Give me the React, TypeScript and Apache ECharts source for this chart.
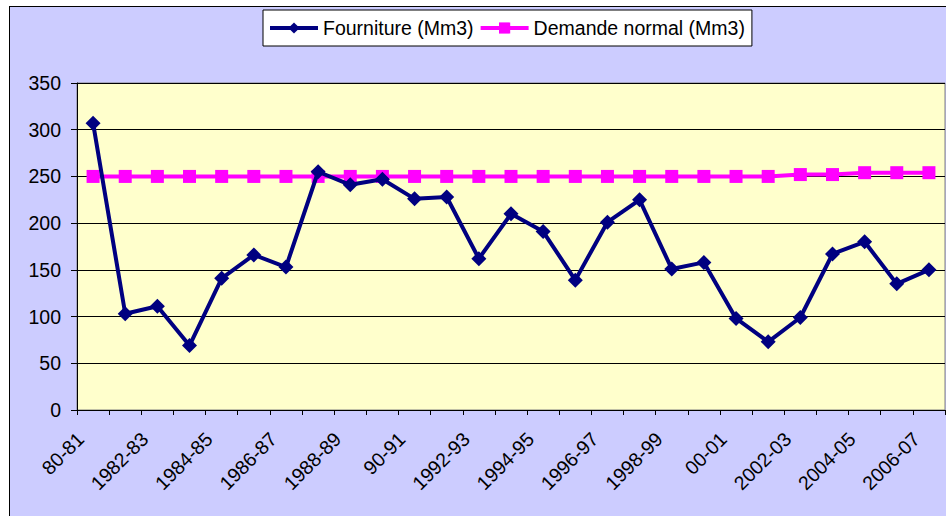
import React, { useEffect, useRef } from "react";
import * as echarts from "echarts";

const categories = [
  "80-81", "1981-82", "1982-83", "1983-84", "1984-85", "1985-86", "1986-87", "1987-88",
  "1988-89", "1989-90", "90-91", "1991-92", "1992-93", "1993-94", "1994-95", "1995-96",
  "1996-97", "1997-98", "1998-99", "1999-00", "00-01", "2001-02", "2002-03", "2003-04",
  "2004-05", "2005-06", "2006-07",
];

const fourniture = [
  307, 103, 111, 69, 141, 166, 153, 255, 241, 247, 226, 228, 162, 210, 191, 139,
  201, 225, 151, 158, 98, 73, 99, 167, 180, 135, 150,
];

const demande = [
  250, 250, 250, 250, 250, 250, 250, 250, 250, 250, 250, 250, 250, 250, 250, 250,
  250, 250, 250, 250, 250, 250, 252, 252, 254, 254, 254,
];

const yTicks = { min: 0, max: 350, interval: 50 };

const FONT = "'Liberation Sans', Arial, sans-serif";

export default function App() {
  const ref = useRef<HTMLDivElement>(null);

  useEffect(() => {
    if (!ref.current) return;
    const chart = echarts.init(ref.current, null, { renderer: "svg" });
    chart.setOption({
      animation: false,
      textStyle: { fontFamily: FONT, color: "#000" },
      legend: {
        left: 263,
        top: 10,
        padding: [8, 7, 8, 5],
        itemGap: 5,
        itemWidth: 48,
        itemHeight: 14,
        backgroundColor: "#ffffff",
        borderColor: "#000000",
        borderWidth: 1,
        borderRadius: 0,
        lineStyle: { width: 4 },
        textStyle: { fontSize: 19.5, fontFamily: FONT, color: "#000" },
        data: ["Fourniture (Mm3)", "Demande normal (Mm3)"],
      },
      grid: {
        left: 77,
        right: 1,
        top: 83,
        bottom: 106,
        show: true,
        backgroundColor: "#FFFFCC",
        borderColor: "#808080",
        borderWidth: 1,
      },
      xAxis: {
        type: "category",
        data: categories,
        boundaryGap: true,
        axisLine: { show: true, lineStyle: { color: "#000", width: 1 } },
        axisTick: { show: true, interval: 0, length: 5, lineStyle: { color: "#000" } },
        axisLabel: {
          interval: 1,
          rotate: 45,
          margin: 13,
          padding: [0, 18, 0, 0],
          fontSize: 19.5,
          fontFamily: FONT,
          color: "#000",
        },
        splitLine: { show: false },
      },
      yAxis: {
        type: "value",
        min: yTicks.min,
        max: yTicks.max,
        interval: yTicks.interval,
        axisLine: { show: true, lineStyle: { color: "#000", width: 1 } },
        axisTick: { show: true, length: 6, lineStyle: { color: "#000" } },
        axisLabel: { margin: 16, fontSize: 19.5, fontFamily: FONT, color: "#000" },
        splitLine: { show: true, lineStyle: { color: "#000", width: 1 } },
      },
      series: [
        {
          name: "Fourniture (Mm3)",
          type: "line",
          data: fourniture,
          symbol: "diamond",
          symbolSize: 15,
          itemStyle: { color: "#000080" },
          lineStyle: { color: "#000080", width: 4 },
          z: 3,
        },
        {
          name: "Demande normal (Mm3)",
          type: "line",
          data: demande,
          symbol: "rect",
          symbolSize: 13,
          itemStyle: { color: "#FF00FF" },
          lineStyle: { color: "#FF00FF", width: 4 },
          z: 2,
        },
      ],
    });
    return () => chart.dispose();
  }, []);

  return (
    <div style={{ position: "fixed", left: 0, top: 0, width: 946, height: 516, background: "#ffffff" }}>
      <div
        style={{
          position: "absolute",
          left: 9,
          top: 6,
          width: 946,
          height: 516,
          background: "#CCCCFF",
          borderLeft: "1px solid #000",
          borderTop: "1px solid #000",
        }}
      />
      <div ref={ref} style={{ position: "absolute", left: 0, top: 0, width: 946, height: 516 }} />
    </div>
  );
}
